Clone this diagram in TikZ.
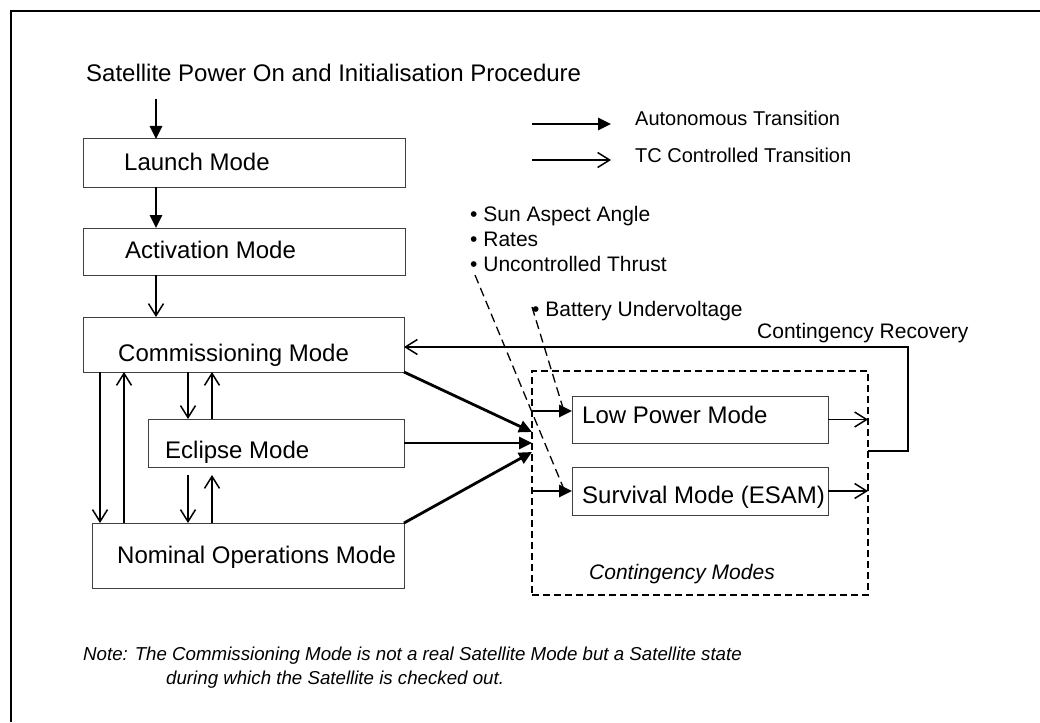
\documentclass[tikz,border=0pt]{standalone}
\usepackage{fontspec}
\setmainfont{Liberation Sans}
\usetikzlibrary{arrows.meta}
\begin{document}
\begin{tikzpicture}[x=1pt,y=-1pt,
  modebox/.style={draw=black!75,line width=1pt,inner sep=0pt,outer sep=0pt,anchor=north west},
  lbl/.style={anchor=base west,inner sep=0pt,font=\fontsize{24}{28}\selectfont},
  small/.style={anchor=base west,inner sep=0pt,font=\fontsize{21}{25}\selectfont},
  legendtxt/.style={anchor=base west,inner sep=0pt,font=\fontsize{20}{24}\selectfont},
  notetxt/.style={anchor=base west,inner sep=0pt,font=\itshape\fontsize{18.7}{22}\selectfont},
  autoarr/.style={line width=2.8pt,-{Triangle[length=13pt,width=12pt]}},
  tcarr/.style={line width=1.5pt,-{Straight Barb[length=12pt,width=15pt]}},
  trig/.style={line width=1.3pt,dash pattern=on 9pt off 5pt},
]
\useasboundingbox (0,0) rectangle (1040,722);
% frame
\coordinate (fbl) at (11,722);
\coordinate (ftl) at (11,11);
\coordinate (ftr) at (1040,11);
\draw[line width=2.2pt] (fbl) -- (ftl) -- (ftr);

% title
\node[lbl] (title) at (86,82) {Satellite Power On and Initialisation Procedure};

% legend
\coordinate (la1) at (532,124); \coordinate (la2) at (611,124);
\coordinate (lb1) at (532,160); \coordinate (lb2) at (611,160);
\draw[autoarr] (la1) -- (la2);
\draw[tcarr] (lb1) -- (lb2);
\node[legendtxt] (legA) at (635,126) {Autonomous Transition};
\node[legendtxt] (legB) at (635,163) {TC Controlled Transition};

% mode boxes
\node[modebox,minimum width=322pt,minimum height=48pt] (launch) at (83,139) {};
\node[modebox,minimum width=322pt,minimum height=47pt] (act) at (83,228) {};
\node[modebox,minimum width=321pt,minimum height=55pt] (comm) at (83,317) {};
\node[modebox,minimum width=256pt,minimum height=48pt] (ecl) at (148,419) {};
\node[modebox,minimum width=312pt,minimum height=65pt] (nom) at (92,523) {};
\node[draw,line width=1.8pt,dash pattern=on 7pt off 4pt,inner sep=0pt,outer sep=0pt,anchor=north west,minimum width=336pt,minimum height=224pt] (cont) at (532,371) {};
\node[modebox,minimum width=256pt,minimum height=47pt] (lp) at (572,396) {};
\node[modebox,minimum width=256pt,minimum height=48pt] (surv) at (572,467) {};

% labels
\node[lbl] (tlaunch) at (124,171) {Launch Mode};
\node[lbl] (tact) at (125,258) {Activation Mode};
\node[lbl] (tcomm) at (118,361) {Commissioning Mode};
\node[lbl] (tecl) at (165,458) {Eclipse Mode};
\node[lbl] (tnom) at (117,563) {Nominal Operations Mode};
\node[lbl] (tlp) at (582,423) {Low Power Mode};
\node[lbl] (tsurv) at (582,503) {Survival Mode (ESAM)};
\node[small,font=\fontsize{21}{25}\selectfont\itshape] (tcont) at (589,579) {Contingency Modes};
\node[small] (trec) at (757,338) {Contingency Recovery};
\node[small] (tsun) at (470,221) {• Sun Aspect Angle};
\node[small] (trates) at (470,246) {• Rates};
\node[small] (tthrust) at (470,271) {• Uncontrolled Thrust};
\node[small] (tbatt) at (532,316) {• Battery Undervoltage};

% note
\node[notetxt] (note1) at (83,660) {Note: The Commissioning Mode is not a real Satellite Mode but a Satellite state};
\node[notetxt] (note2) at (166,684) {during which the Satellite is checked out.};

% helper x / y positions
\coordinate (xa) at (156,99);
\coordinate (x1) at (100,0);
\coordinate (x2) at (124,0);
\coordinate (x3) at (188,0);
\coordinate (x4) at (212,0);
\coordinate (ye) at (0,475);
\coordinate (yc1) at (0,432);
\coordinate (yc3) at (0,452);
\coordinate (ylp) at (0,411);
\coordinate (ysv) at (0,491);
\coordinate (yrec) at (0,347);
\coordinate (yout) at (0,451);
\coordinate (xrec) at (908,0);

% autonomous transitions (top)
\draw[autoarr] (xa) -- (xa |- launch.north);
\draw[autoarr] (xa |- launch.south) -- (xa |- act.north);
% TC transition activation -> commissioning
\draw[tcarr] (xa |- act.south) -- (xa |- comm.north);

% commissioning <-> nominal
\draw[tcarr] (x1 |- comm.south) -- (x1 |- nom.north);
\draw[tcarr] (x2 |- nom.north) -- (x2 |- comm.south);
% commissioning <-> eclipse
\draw[tcarr] (x3 |- comm.south) -- (x3 |- ecl.north);
\draw[tcarr] (x4 |- ecl.north) -- (x4 |- comm.south);
% eclipse <-> nominal
\draw[tcarr] (x3 |- ye) -- (x3 |- nom.north);
\draw[tcarr] (x4 |- nom.north) -- (x4 |- ye);

% into contingency
\draw[autoarr] (comm.south east) -- (cont.west |- yc1);
\draw[autoarr] (ecl.east) -- (cont.west |- ecl.east);
\draw[autoarr] (nom.north east) -- (cont.west |- yc3);
\draw[autoarr] (cont.west |- ylp) -- (lp.west |- ylp);
\draw[autoarr] (cont.west |- ysv) -- (surv.west |- ysv);

% out of contingency modes
\draw[tcarr] (lp.east) -- (cont.east |- lp.east);
\draw[tcarr] (surv.east) -- (cont.east |- surv.east);

% contingency recovery
\draw[tcarr] (cont.east |- yout) -- (xrec |- yout) -- (xrec |- yrec) -- (comm.east |- yrec);

% trigger dashed lines
\coordinate (d1a) at (475,275); \coordinate (d1b) at (563,487);
\coordinate (d2a) at (532,307); \coordinate (d2b) at (563,408);
\draw[trig] (d1a) -- (d1b);
\draw[trig] (d2a) -- (d2b);
\end{tikzpicture}
\end{document}
